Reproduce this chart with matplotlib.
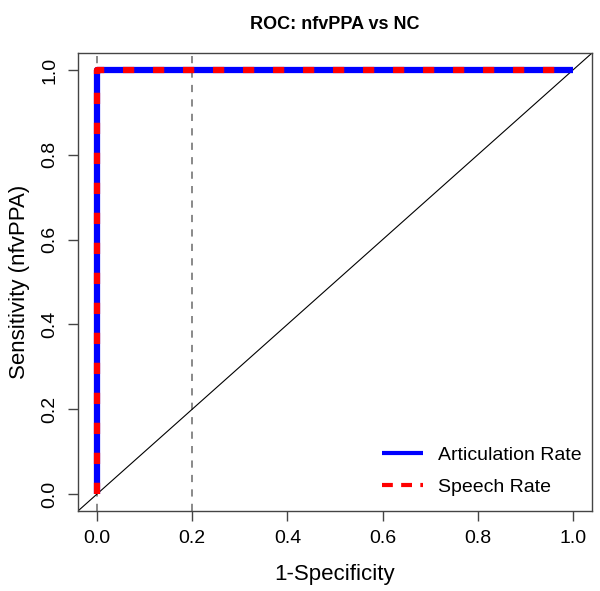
import matplotlib
matplotlib.use("Agg")
import matplotlib.pyplot as plt

plt.rcParams['font.family'] = ['Liberation Sans', 'DejaVu Sans']

# ROC points
artic_fpr = [0.0, 0.0, 1.0]
artic_tpr = [0.0, 1.0, 1.0]
speech_fpr = [0.0, 0.0, 1.0]
speech_tpr = [0.0, 1.0, 1.0]
ref_lines = [0.0, 0.2]
ticks = [0.0, 0.2, 0.4, 0.6, 0.8, 1.0]
tick_labels = ["0.0", "0.2", "0.4", "0.6", "0.8", "1.0"]

fig = plt.figure(figsize=(6, 5.91), dpi=100)
ax = fig.add_axes([0.13, 0.1354, 0.8567, 0.7749])

# reference lines
for v in ref_lines:
    ax.axvline(v, color="#808080", linestyle=(0, (4, 4)), linewidth=1.3, zorder=1)
ax.axline((0, 0), slope=1, color="black", linewidth=0.8, zorder=1)

ax.plot(artic_fpr, artic_tpr, color="#0000FF", linewidth=4.5, solid_capstyle="butt",
        label="Articulation Rate", zorder=3)
ax.plot(speech_fpr, speech_tpr, color="#FF0000", linewidth=4.5, linestyle=(0, (1.8, 3.0)),
        label="Speech Rate", zorder=4)

ax.set_xlim(-0.04, 1.04)
ax.set_ylim(-0.04, 1.04)
ax.set_xticks(ticks)
ax.set_xticklabels(tick_labels)
ax.set_yticks(ticks)
ax.set_yticklabels(tick_labels, rotation=90, va="center")
ax.tick_params(direction="out", length=7, width=1, color="#444444", labelsize=14, pad=7)

for s in ax.spines.values():
    s.set_color("#444444")
    s.set_linewidth(1)

ax.set_xlabel("1-Specificity", fontsize=16, labelpad=12)
ax.set_ylabel("Sensitivity (nfvPPA)", fontsize=16, labelpad=8)
ax.set_title("ROC: nfvPPA vs NC", fontsize=13, fontweight="bold", pad=17)

leg = ax.legend(loc="lower right", bbox_to_anchor=(1.0, 0.009), frameon=False,
                fontsize=14, handlelength=2.1, borderaxespad=0.15,
                labelspacing=0.75, handletextpad=0.75)
for ln in leg.get_lines():
    ln.set_linewidth(3)
leg.get_lines()[1].set_linestyle((0, (2.6, 2.0)))

fig.savefig("out.png", dpi=100)
